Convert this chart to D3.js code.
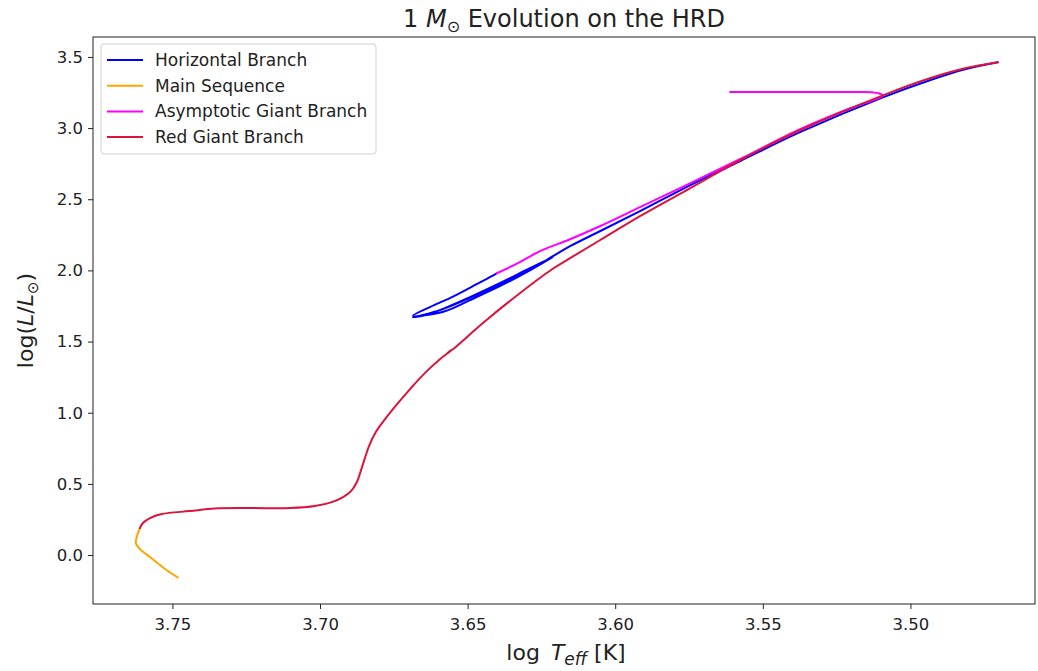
<!DOCTYPE html>
<html>
<head>
<meta charset="utf-8">
<script src="https://cdn.jsdelivr.net/npm/d3@7"></script>
<style>
  body { margin: 0; background: #fff; }
  svg { font-family: "DejaVu Sans", sans-serif; }
</style>
</head>
<body>
<svg id="chart" width="1038" height="671"></svg>
<script>
// ---- Data (log Teff, log L/Lsun) ----
const msTeff = [3.7482, 3.7525, 3.7576, 3.7610, 3.7624, 3.7620, 3.7610];
const msLum  = [-0.157, -0.098, -0.014, 0.042, 0.084, 0.133, 0.190];

const rgbTeff = [3.7610, 3.7600, 3.7576, 3.7536, 3.7441, 3.7356, 3.7237, 3.7102, 3.7017, 3.6960,
                 3.6922, 3.6895, 3.6875, 3.6861, 3.6848, 3.6834, 3.6811, 3.6777, 3.6736, 3.6692,
                 3.6645, 3.6594, 3.6563, 3.6550, 3.6567, 3.6543, 3.6499, 3.6441, 3.6323, 3.6214,
                 3.6153, 3.6052, 3.5916, 3.5747, 3.5578, 3.5374, 3.5093, 3.4934, 3.4815, 3.4704];
const rgbLum  = [0.190, 0.225, 0.260, 0.288, 0.309, 0.327, 0.330, 0.330, 0.344, 0.372,
                 0.407, 0.449, 0.513, 0.597, 0.681, 0.765, 0.864, 0.962, 1.067, 1.173,
                 1.278, 1.376, 1.426, 1.447, 1.422, 1.457, 1.538, 1.643, 1.840, 2.008,
                 2.086, 2.212, 2.381, 2.577, 2.774, 2.985, 3.230, 3.350, 3.420, 3.462];

const hbTeff = [3.4704, 3.4815, 3.4934, 3.5093, 3.5374, 3.5578, 3.5747, 3.5916, 3.6052, 3.6153,
                3.6211, 3.6279, 3.6391, 3.6502, 3.6584, 3.6655, 3.6685,
                3.6645, 3.6577, 3.6492, 3.6391, 3.6289, 3.6211,
                3.6289, 3.6391, 3.6492, 3.6577, 3.6645, 3.6685,
                3.6628, 3.6560, 3.6482, 3.6418, 3.6401];
const hbLum  = [3.462, 3.413, 3.336, 3.216, 2.971, 2.767, 2.598, 2.416, 2.275, 2.170,
                2.100, 2.015, 1.903, 1.798, 1.728, 1.685, 1.671,
                1.685, 1.735, 1.812, 1.910, 2.015, 2.093,
                2.001, 1.889, 1.791, 1.713, 1.685, 1.682,
                1.742, 1.805, 1.889, 1.959, 1.980];

const agbTeff = [3.6401, 3.6323, 3.6255, 3.6153, 3.6052, 3.5916, 3.5747, 3.5578, 3.5374, 3.5205,
                 3.5093, 3.5107, 3.5130, 3.5171, 3.5374, 3.5611];
const agbLum  = [1.980, 2.058, 2.135, 2.219, 2.310, 2.444, 2.612, 2.781, 2.992, 3.139,
                 3.227, 3.244, 3.251, 3.253, 3.253, 3.253];

const xTicks = [3.75, 3.70, 3.65, 3.60, 3.55, 3.50];
const yTicks = [0.0, 0.5, 1.0, 1.5, 2.0, 2.5, 3.0, 3.5];

const legendNames  = ["Horizontal Branch", "Main Sequence", "Asymptotic Giant Branch", "Red Giant Branch"];
const legendColors = ["#0000ff", "#ffa500", "#ff00ff", "#dc143c"];

// ---- Layout ----
const svg = d3.select("#chart");
const L = 93, R = 1035, T = 37, B = 604;

const x = d3.scaleLinear().domain([3.7769, 3.4578]).range([L, R]);
const y = d3.scaleLinear().domain([-0.344, 3.640]).range([B, T]);

const zip = (a, b) => a.map((v, i) => [v, b[i]]);

const smooth = d3.line().x(d => x(d[0])).y(d => y(d[1])).curve(d3.curveCatmullRom.alpha(0.5));

const plot = svg.append("g");
const series = [
  [hbTeff, hbLum, legendColors[0]],
  [msTeff, msLum, legendColors[1]],
  [agbTeff, agbLum, legendColors[2]],
  [rgbTeff, rgbLum, legendColors[3]]
];
series.forEach(([xs, ys, c]) => {
  plot.append("path").attr("d", smooth(zip(xs, ys)))
    .attr("fill", "none").attr("stroke", c).attr("stroke-width", 2)
    .attr("stroke-linejoin", "round").attr("stroke-linecap", "round");
});

// ---- Axes ----
const xAxis = d3.axisBottom(x).tickValues(xTicks).tickFormat(d3.format(".2f")).tickSize(5).tickPadding(5);
const yAxis = d3.axisLeft(y).tickValues(yTicks).tickFormat(d3.format(".1f")).tickSize(5).tickPadding(5);

const gx = svg.append("g").attr("transform", `translate(0,${B})`).call(xAxis);
const gy = svg.append("g").attr("transform", `translate(${L},0)`).call(yAxis);
[gx, gy].forEach(g => {
  g.select(".domain").remove();
  g.selectAll("text").attr("font-size", 16.5).attr("fill", "#222").attr("font-family", "DejaVu Sans");
  g.selectAll("line").attr("stroke", "#222");
});
gx.selectAll("text").attr("dy", "0.95em");

// frame
svg.append("rect").attr("x", L).attr("y", T).attr("width", R - L).attr("height", B - T)
  .attr("fill", "none").attr("stroke", "#222").attr("stroke-width", 1);

// ---- Title ----
const title = svg.append("text").attr("x", (L + R) / 2).attr("y", 27)
  .attr("text-anchor", "middle").attr("font-size", 24).attr("fill", "#222");
title.append("tspan").text("1 ");
title.append("tspan").attr("font-style", "italic").text("M");
title.append("tspan").attr("font-size", 16).attr("dy", 5).text("⊙");
title.append("tspan").attr("dy", -5).text(" Evolution on the HRD");

// ---- X label ----
const xl = svg.append("text").attr("x", 566).attr("y", 660)
  .attr("text-anchor", "middle").attr("font-size", 22).attr("fill", "#222");
xl.append("tspan").text("log\u2002");
xl.append("tspan").attr("font-style", "italic").text("T");
xl.append("tspan").attr("font-style", "italic").attr("font-size", 17).attr("dy", 5).text("eff");
xl.append("tspan").attr("dy", -5).text(" [K]");

// ---- Y label ----
const yl = svg.append("text").attr("transform", `translate(33,${(T + B) / 2}) rotate(-90)`)
  .attr("text-anchor", "middle").attr("font-size", 22).attr("fill", "#222");
yl.append("tspan").text("log(");
yl.append("tspan").attr("font-style", "italic").text("L");
yl.append("tspan").text("/");
yl.append("tspan").attr("font-style", "italic").text("L");
yl.append("tspan").attr("font-size", 15).attr("dy", 5).text("⊙");
yl.append("tspan").attr("dy", -5).text(")");

// ---- Legend ----
const lg = svg.append("g").attr("transform", "translate(101,44)");
lg.append("rect").attr("width", 275).attr("height", 110).attr("rx", 3)
  .attr("fill", "#fff").attr("fill-opacity", 0.8).attr("stroke", "#d0d0d0");
legendNames.forEach((n, i) => {
  const yy = 16 + i * 25.7;
  lg.append("line").attr("x1", 6).attr("x2", 42).attr("y1", yy).attr("y2", yy)
    .attr("stroke", legendColors[i]).attr("stroke-width", 2);
  lg.append("text").attr("x", 54).attr("y", yy).attr("dy", "0.35em")
    .attr("font-size", 17).attr("fill", "#222").text(n);
});
</script>
</body>
</html>
